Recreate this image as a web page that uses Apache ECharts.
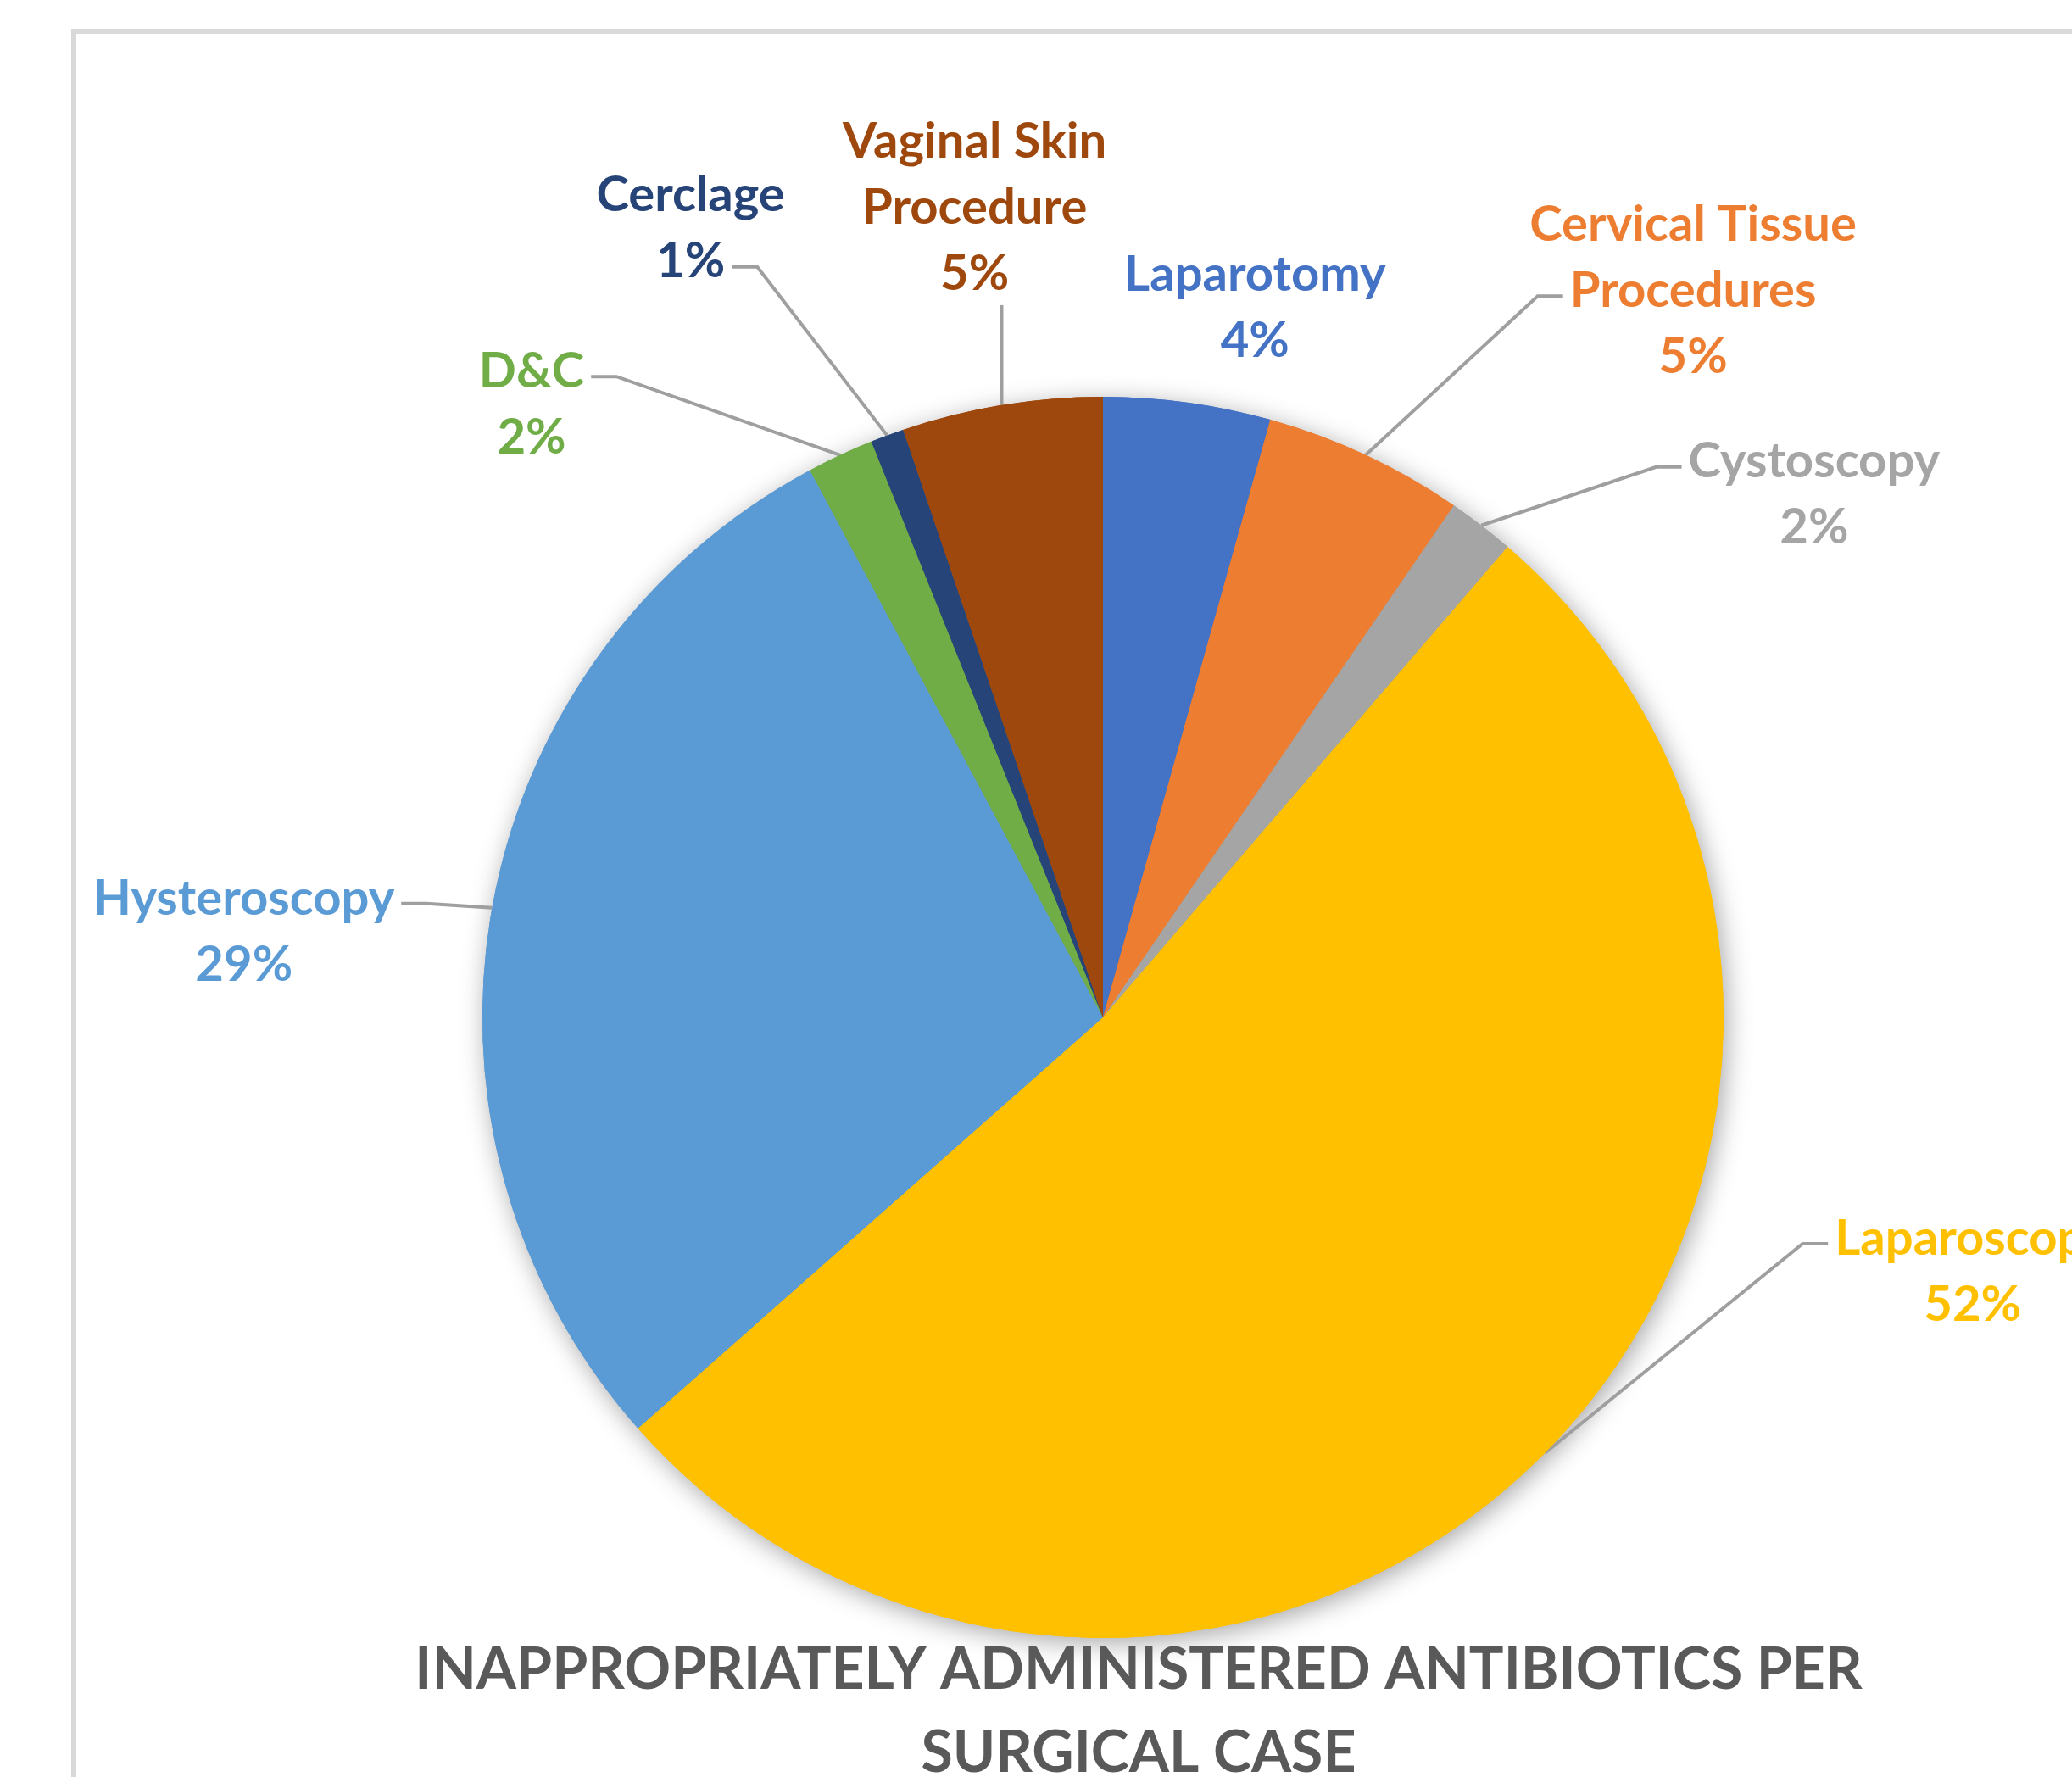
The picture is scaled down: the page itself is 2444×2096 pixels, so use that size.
<!DOCTYPE html>
<html><head><meta charset="utf-8">
<script src="https://cdn.jsdelivr.net/npm/echarts@6/dist/echarts.min.js"></script>
<style>html,body{margin:0;padding:0;background:#fff;} #main{width:2444px;height:2096px;}</style>
</head><body><div id="main"></div>
<script>
// ---- data ----
const categories = ['Laparotomy', 'Cervical Tissue Procedures', 'Cystoscopy', 'Laparoscopy', 'Hysteroscopy', 'D&C', 'Cerclage', 'Vaginal Skin Procedure'];
const caseCounts = [10, 12, 4, 120, 66, 4, 2, 12];
const sliceColors = ['#4472C4', '#ED7D31', '#A5A5A5', '#FFC000', '#5B9BD5', '#70AD47', '#264478', '#9E480E'];
const chartTitle = 'INAPPROPRIATELY ADMINISTERED ANTIBIOTICS PER\nSURGICAL CASE';

// ---- layout (label placement in polar terms relative to pie) ----
const labelPlacement = [
  {angle: 12.1, dist: 1.169, attach: 'none', line: 0},
  {angle: 39.1, dist: 1.508, attach: 'left', line: 1},
  {angle: 53.7, dist: 1.422, attach: 'left', line: 0},
  {angle: 106.3, dist: 1.460, attach: 'left', line: 0},
  {angle: 275.7, dist: 1.391, attach: 'right', line: 0},
  {angle: 317.0, dist: 1.350, attach: 'right', line: 0},
  {angle: 332.4, dist: 1.434, attach: 'right', line: 1},
  {angle: 351.0, dist: 1.321, attach: 'bottom', line: 0}
];
const CX = 0.5323, CY = 0.5725, R = 732;
const FONT = 'Lato', FS = 58, LH = 78, GAP = 8, TICK = 30;

function wrapName(n) {
  if (n.length > 15 && n.indexOf(' ') > 0) {
    const k = n.lastIndexOf(' ');
    return n.slice(0, k) + '\n' + n.slice(k + 1);
  }
  return n;
}
const total = caseCounts.reduce((a, b) => a + b, 0);
const midAngles = [];
(function () { let c = 0; caseCounts.forEach(v => { midAngles.push((c + v / 2) / total * 360); c += v; }); })();

const mctx = document.createElement('canvas').getContext('2d');
mctx.font = 'bold ' + FS + 'px ' + FONT;

const chart = echarts.init(document.getElementById('main'), null, {renderer: 'canvas'});

const pieData = categories.map((c, i) => ({
  name: c, value: caseCounts[i],
  itemStyle: {color: sliceColors[i]},
  label: {color: sliceColors[i]},
  labelLine: {show: labelPlacement[i].attach !== 'none'}
}));

function layoutLabel(p) {
  const i = p.dataIndex;
  const L = labelPlacement[i];
  const cx = chart.getWidth() * CX, cy = chart.getHeight() * CY;
  const a = L.angle * Math.PI / 180;
  const x = cx + R * L.dist * Math.sin(a);
  const y = cy - R * L.dist * Math.cos(a);
  const lines = (p.text || '').split('\n');
  const n = lines.length;
  const top = y - n * LH / 2;
  const res = {x: x, y: y, align: 'center', verticalAlign: 'middle'};
  if (L.attach !== 'none') {
    const ma = midAngles[i] * Math.PI / 180;
    const s = [cx + R * Math.sin(ma), cy - R * Math.cos(ma)];
    let end, bend;
    if (L.attach === 'bottom') {
      end = [s[0], top + n * LH + GAP - 10];
      bend = [s[0], (s[1] + end[1]) / 2];
    } else {
      const ly = top + (L.line + 0.5) * LH + 6;
      const lw = mctx.measureText(lines[L.line]).width;
      if (L.attach === 'left') { end = [x - lw / 2 - GAP, ly]; bend = [end[0] - TICK, ly]; }
      else { end = [x + lw / 2 + GAP, ly]; bend = [end[0] + TICK, ly]; }
    }
    res.labelLinePoints = [s, bend, end];
  }
  return res;
}

const option = {
  backgroundColor: '#ffffff',
  animation: false,
  graphic: [{
    type: 'rect', left: 84, top: 34, z: -10, silent: true,
    shape: {width: 2600, height: 2300},
    style: {fill: 'none', stroke: '#d9d9d9', lineWidth: 6}
  }],
  title: {
    text: chartTitle,
    left: 1338, top: 1916, textAlign: 'center',
    textStyle: {fontFamily: FONT, fontWeight: 'bold', fontSize: 68, lineHeight: 98, color: '#595959'}
  },
  series: [{
    type: 'pie', name: 'shadow', silent: true, z: 1,
    center: [(CX * 100) + '%', (CY * 100) + '%'], radius: R,
    startAngle: 90, clockwise: true,
    label: {show: false}, labelLine: {show: false},
    itemStyle: {shadowBlur: 30, shadowColor: 'rgba(0,0,0,0.35)', shadowOffsetX: 4, shadowOffsetY: 6},
    data: pieData.map(d => ({name: d.name, value: d.value, itemStyle: d.itemStyle}))
  }, {
    type: 'pie', name: 'cases', z: 2,
    center: [(CX * 100) + '%', (CY * 100) + '%'], radius: R,
    startAngle: 90, clockwise: true,
    avoidLabelOverlap: false,
    itemStyle: {borderWidth: 0},
    label: {
      show: true, position: 'outside',
      fontFamily: FONT, fontWeight: 'bold', fontSize: FS, lineHeight: LH,
      formatter: p => wrapName(p.name) + '\n' + Math.round(p.percent) + '%'
    },
    labelLine: {show: true, length: 30, length2: 30, lineStyle: {color: '#9f9f9f', width: 4}},
    labelLayout: layoutLabel,
    data: pieData
  }]
};
chart.setOption(option);
</script>
</body></html>
